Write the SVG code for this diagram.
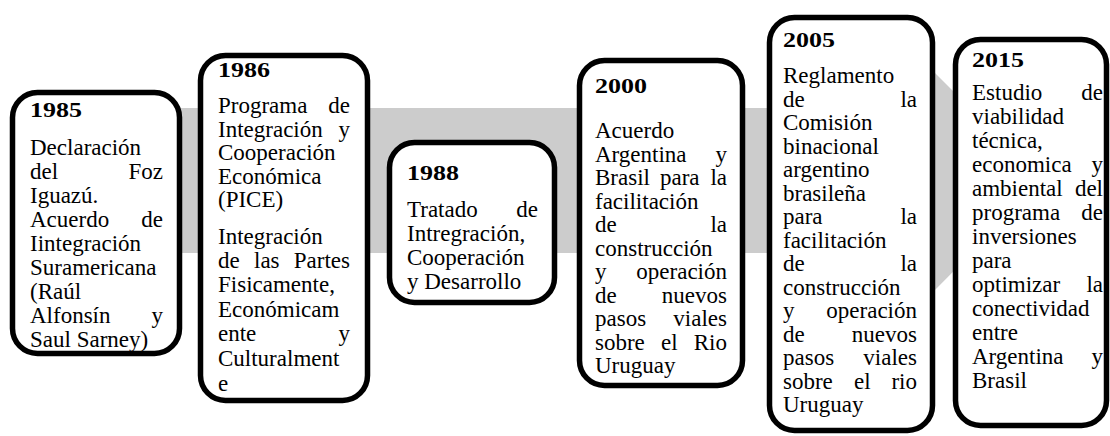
<svg xmlns="http://www.w3.org/2000/svg" width="1110" height="436" viewBox="0 0 1110 436">
<style>
.box{fill:#fff;stroke:#000;stroke-width:5.5}
.yr{font-family:"Liberation Serif","Times New Roman",serif;font-weight:bold;font-size:22px;fill:#000}
.t{font-family:"Liberation Serif","Times New Roman",serif;font-size:23px;fill:#000}
.r{text-anchor:end}
</style>
<rect width="1110" height="436" fill="#fff"/>
<g id="connectors">
<polygon points="20,108 935,108 935,73 1043,181 935,290 935,253 20,253" fill="#cccccc"/>
</g>
<g id="n1985">
<rect class="box" x="12.5" y="92.5" width="167" height="261" rx="25"/>
<text class="yr" x="30" y="117" textLength="52" lengthAdjust="spacingAndGlyphs">1985</text>
<text class="t" x="30" y="155">Declaración</text>
<text class="t" x="30" y="179">del</text><text class="t r" x="163" y="179">Foz</text>
<text class="t" x="30" y="203">Iguazú.</text>
<text class="t" x="30" y="227">Acuerdo</text><text class="t r" x="163" y="227">de</text>
<text class="t" x="30" y="251">Iintegración</text>
<text class="t" x="30" y="275">Suramericana</text>
<text class="t" x="30" y="299">(Raúl</text>
<text class="t" x="30" y="323">Alfonsín</text><text class="t r" x="163" y="323">y</text>
<text class="t" x="30" y="347">Saul Sarney)</text>
</g>
<g id="n1986">
<rect class="box" x="200.5" y="55.5" width="167" height="345" rx="25"/>
<text class="yr" x="218" y="77" textLength="52" lengthAdjust="spacingAndGlyphs">1986</text>
<text class="t" x="218" y="113">Programa</text><text class="t r" x="350" y="113">de</text>
<text class="t" x="218" y="136.5">Integración</text><text class="t r" x="350" y="136.5">y</text>
<text class="t" x="218" y="160">Cooperación</text>
<text class="t" x="218" y="183.5">Económica</text>
<text class="t" x="218" y="207">(PICE)</text>
<text class="t" x="218" y="244">Integración</text>
<text class="t" x="218" y="268">de</text><text class="t" x="254" y="268">las</text><text class="t r" x="350" y="268">Partes</text>
<text class="t" x="218" y="292">Fisicamente,</text>
<text class="t" x="218" y="316.5">Económicam</text>
<text class="t" x="218" y="341">ente</text><text class="t r" x="350" y="341">y</text>
<text class="t" x="218" y="365.5">Culturalment</text>
<text class="t" x="218" y="391">e</text>
</g>
<g id="n1988">
<rect class="box" x="389.5" y="142.5" width="165" height="160" rx="25"/>
<text class="yr" x="407" y="180" textLength="52" lengthAdjust="spacingAndGlyphs">1988</text>
<text class="t" x="407" y="217">Tratado</text><text class="t r" x="538" y="217">de</text>
<text class="t" x="407" y="241">Intregración,</text>
<text class="t" x="407" y="265">Cooperación</text>
<text class="t" x="407" y="289">y Desarrollo</text>
</g>
<g id="n2000">
<rect class="box" x="579.5" y="60.5" width="163" height="325" rx="25"/>
<text class="yr" x="595" y="93" textLength="52" lengthAdjust="spacingAndGlyphs">2000</text>
<text class="t" x="595" y="138">Acuerdo</text>
<text class="t" x="595" y="161.5">Argentina</text><text class="t r" x="727" y="161.5">y</text>
<text class="t" x="595" y="185">Brasil</text><text class="t" x="660" y="185">para</text><text class="t r" x="727" y="185">la</text>
<text class="t" x="595" y="208.5">facilitación</text>
<text class="t" x="595" y="232">de</text><text class="t r" x="727" y="232">la</text>
<text class="t" x="595" y="255.5">construcción</text>
<text class="t" x="595" y="279">y</text><text class="t r" x="727" y="279">operación</text>
<text class="t" x="595" y="302.5">de</text><text class="t r" x="727" y="302.5">nuevos</text>
<text class="t" x="595" y="326">pasos</text><text class="t r" x="727" y="326">viales</text>
<text class="t" x="595" y="349.5">sobre</text><text class="t" x="661" y="349.5">el</text><text class="t r" x="727" y="349.5">Rio</text>
<text class="t" x="595" y="373">Uruguay</text>
</g>
<g id="n2005">
<rect class="box" x="769.5" y="17.5" width="163" height="413" rx="25"/>
<text class="yr" x="783" y="47" textLength="52" lengthAdjust="spacingAndGlyphs">2005</text>
<text class="t" x="783" y="83">Reglamento</text>
<text class="t" x="783" y="106.5">de</text><text class="t r" x="917" y="106.5">la</text>
<text class="t" x="783" y="130">Comisión</text>
<text class="t" x="783" y="153.5">binacional</text>
<text class="t" x="783" y="177">argentino</text>
<text class="t" x="783" y="200.5">brasileña</text>
<text class="t" x="783" y="224">para</text><text class="t r" x="917" y="224">la</text>
<text class="t" x="783" y="247.5">facilitación</text>
<text class="t" x="783" y="271">de</text><text class="t r" x="917" y="271">la</text>
<text class="t" x="783" y="294.5">construcción</text>
<text class="t" x="783" y="318">y</text><text class="t r" x="917" y="318">operación</text>
<text class="t" x="783" y="341.5">de</text><text class="t r" x="917" y="341.5">nuevos</text>
<text class="t" x="783" y="365">pasos</text><text class="t r" x="917" y="365">viales</text>
<text class="t" x="783" y="388.5">sobre</text><text class="t" x="854" y="388.5">el</text><text class="t r" x="917" y="388.5">rio</text>
<text class="t" x="783" y="412">Uruguay</text>
</g>
<g id="n2015">
<rect class="box" x="955.5" y="39.5" width="151" height="386" rx="25"/>
<text class="yr" x="972" y="67" textLength="52" lengthAdjust="spacingAndGlyphs">2015</text>
<text class="t" x="972" y="100">Estudio</text><text class="t r" x="1103" y="100">de</text>
<text class="t" x="972" y="124">viabilidad</text>
<text class="t" x="972" y="148">técnica,</text>
<text class="t" x="972" y="172">economica</text><text class="t r" x="1103" y="172">y</text>
<text class="t" x="972" y="196">ambiental</text><text class="t r" x="1103" y="196">del</text>
<text class="t" x="972" y="220">programa</text><text class="t r" x="1103" y="220">de</text>
<text class="t" x="972" y="244">inversiones</text>
<text class="t" x="972" y="268">para</text>
<text class="t" x="972" y="292">optimizar</text><text class="t r" x="1103" y="292">la</text>
<text class="t" x="972" y="316">conectividad</text>
<text class="t" x="972" y="340">entre</text>
<text class="t" x="972" y="364">Argentina</text><text class="t r" x="1103" y="364">y</text>
<text class="t" x="972" y="388">Brasil</text>
</g>
</svg>
